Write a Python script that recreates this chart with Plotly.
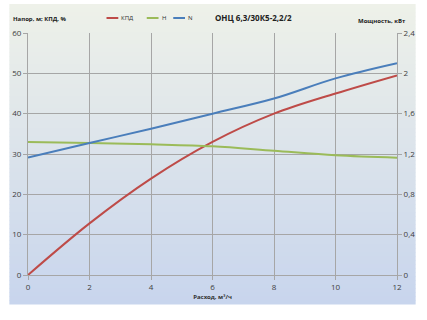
import plotly.graph_objects as go

# Data
flow = [0, 2, 4, 6, 8, 10, 12]
kpd = [0, 12.8, 23.9, 33.0, 40.0, 45.0, 49.5]
head = [33.0, 32.75, 32.4, 31.9, 30.8, 29.7, 29.1]
power = [1.165, 1.31, 1.45, 1.60, 1.75, 1.95, 2.10]

series_names = ["КПД", "Н", "N"]
series_colors = ["#be4b48", "#9bbb59", "#4a7ebb"]

x_ticks = [0, 2, 4, 6, 8, 10, 12]
yl_ticks = [0, 10, 20, 30, 40, 50, 60]
yr_vals = [0, 0.4, 0.8, 1.2, 1.6, 2.0, 2.4]
yr_text = ["0", "0,4", "0,8", "1,2", "1,6", "2", "2,4"]

W, H = 427, 320
ml, mr, mt, mb = 26, 25, 33, 45
pw, ph = W - ml - mr, H - mt - mb

def px2paper_x(px):
    return (px - ml) / pw

def px2paper_y(py):
    return 1 - (py - mt) / ph

fig = go.Figure()
fig.add_trace(go.Scatter(x=flow, y=kpd, name=series_names[0], mode="lines",
                         line=dict(color=series_colors[0], width=2, shape="spline")))
fig.add_trace(go.Scatter(x=flow, y=head, name=series_names[1], mode="lines",
                         line=dict(color=series_colors[1], width=2, shape="spline")))
fig.add_trace(go.Scatter(x=flow, y=power, name=series_names[2], mode="lines", yaxis="y2",
                         line=dict(color=series_colors[2], width=2, shape="spline")))

# gradient panel background
shapes = []
top_c = (238, 241, 233)
bot_c = (200, 213, 237)
y0px, y1px = 4, 304
n = 75
for i in range(n):
    t = i / (n - 1)
    c = tuple(int(round(top_c[k] + (bot_c[k] - top_c[k]) * t)) for k in range(3))
    a = y0px + (y1px - y0px) * i / n
    b = y0px + (y1px - y0px) * (i + 1) / n + 0.6
    shapes.append(dict(type="rect", xref="paper", yref="paper", layer="below",
                       x0=px2paper_x(7), x1=px2paper_x(421),
                       y0=px2paper_y(b), y1=px2paper_y(a),
                       line=dict(width=0), fillcolor="rgb(%d,%d,%d)" % c))

annotations = [
    dict(text="<b>ОНЦ 6,3/30К5-2,2/2</b>", xref="paper", yref="paper",
         x=px2paper_x(256), y=px2paper_y(17), xanchor="center", yanchor="middle",
         showarrow=False, font=dict(size=8, color="#202020")),
    dict(text="<b>Напор, м; КПД, %</b>", xref="paper", yref="paper",
         x=px2paper_x(9), y=px2paper_y(19), xanchor="left", yanchor="middle",
         showarrow=False, font=dict(size=6, color="#202020")),
    dict(text="<b>Мощность, кВт</b>", xref="paper", yref="paper",
         x=px2paper_x(413), y=px2paper_y(21), xanchor="right", yanchor="middle",
         showarrow=False, font=dict(size=6, color="#202020")),
]

# compact legend (line sample + label), as in the reference
legend_x = [106, 147, 174]
legend_y = 18
for name, color, lx in zip(series_names, series_colors, legend_x):
    shapes.append(dict(type="line", xref="paper", yref="paper",
                       x0=px2paper_x(lx), x1=px2paper_x(lx + 12),
                       y0=px2paper_y(legend_y), y1=px2paper_y(legend_y),
                       line=dict(color=color, width=2)))
    annotations.append(dict(text=name, xref="paper", yref="paper",
                            x=px2paper_x(lx + 13), y=px2paper_y(legend_y),
                            xanchor="left", yanchor="middle", showarrow=False,
                            font=dict(size=6, color="#303030")))

font = "Open Sans, Liberation Sans, sans-serif"
fig.update_layout(
    width=W, height=H,
    margin=dict(l=ml, r=mr, t=mt, b=mb),
    paper_bgcolor="white",
    plot_bgcolor="rgba(0,0,0,0)",
    shapes=shapes,
    annotations=annotations,
    font=dict(family=font, size=8, color="#404040"),
    showlegend=False,
    xaxis=dict(range=[0, 12], tickvals=x_ticks, showgrid=True, gridcolor="#a6a6a6", gridwidth=1,
               zeroline=False, showline=True, linecolor="#a6a6a6", mirror=False,
               ticks="outside", ticklen=4, tickcolor="#a6a6a6",
               tickfont=dict(size=8, color="#404040"),
               title=dict(text="<b>Расход, м³/ч</b>", font=dict(size=6, color="#303030"), standoff=4)),
    yaxis=dict(range=[0, 60], tickvals=yl_ticks, showgrid=True, gridcolor="#a6a6a6", gridwidth=1,
               zeroline=False, showline=True, linecolor="#a6a6a6",
               ticks="outside", ticklen=4, tickcolor="#a6a6a6",
               tickfont=dict(size=8, color="#404040")),
    yaxis2=dict(range=[0, 2.4], tickvals=yr_vals, ticktext=yr_text, overlaying="y", side="right",
                showgrid=False, zeroline=False, showline=True, linecolor="#a6a6a6",
                ticks="outside", ticklen=4, tickcolor="#a6a6a6",
                tickfont=dict(size=8, color="#404040")),
)

fig.write_html("out.html")
